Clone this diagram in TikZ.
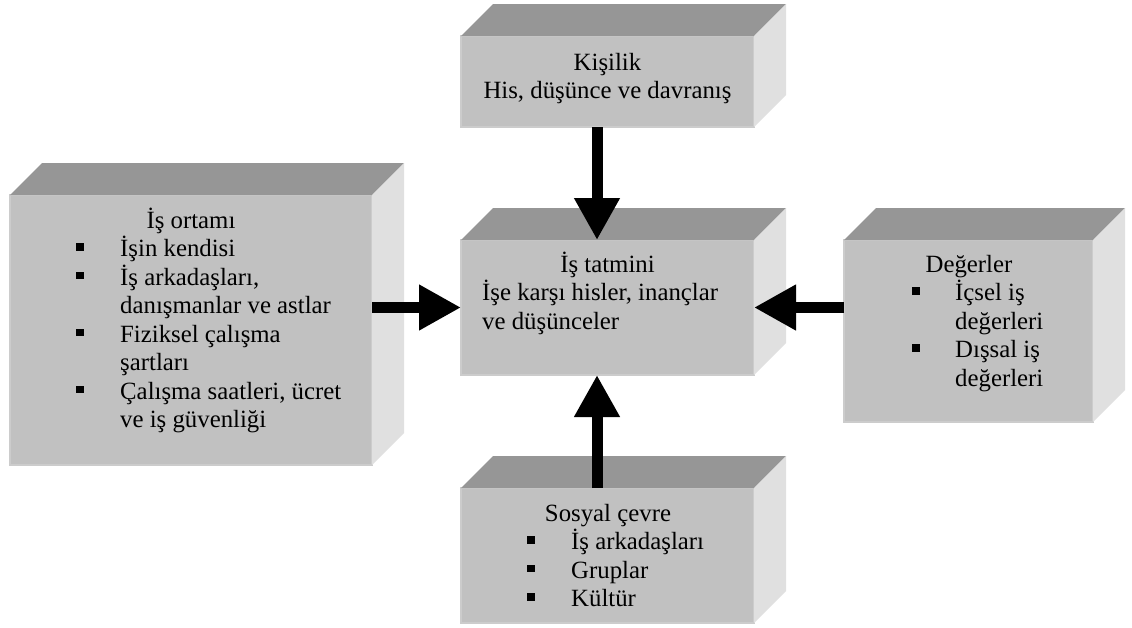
\documentclass[tikz,border=0pt]{standalone}
\usepackage{fontspec}
\setmainfont{Liberation Serif}
\usetikzlibrary{arrows.meta}

\definecolor{frontgray}{gray}{0.755}
\definecolor{topgray}{gray}{0.59}
\definecolor{sidegray}{gray}{0.88}
\definecolor{edgegray}{gray}{0.80}

% top and right faces of a block whose front face is node #1
\newcommand\boxfaces[1]{%
  \fill[topgray] (#1.north west) -- ++(32,-32) -- ([shift={(32,-32)}]#1.north east) -- (#1.north east) -- cycle;
  \fill[sidegray] (#1.north east) -- ++(32,-32) -- ([shift={(32,-32)}]#1.south east) -- (#1.south east) -- cycle;}

\begin{document}
\begin{tikzpicture}[x=1pt,y=-1pt,
  front/.style={draw=edgegray, line width=1.2pt, fill=frontgray, inner sep=0pt, outer sep=0pt, anchor=north west},
  ttl/.style={anchor=base, inner sep=0pt},
  ln/.style={anchor=base west, inner sep=0pt},
  bul/.style={fill=black, inner sep=0pt, minimum size=7.5pt},
  flow/.style={line width=11pt, -{Triangle[length=42pt,width=43pt]}},
  font=\fontsize{24.8pt}{28.5pt}\selectfont]

\useasboundingbox[fill=white] (0,0) rectangle (1132,627);

% front faces
\node[front, minimum width=362pt, minimum height=270pt] (env) at (10,195) {};
\node[front, minimum width=293pt, minimum height=91pt]  (kisilik) at (461,36) {};
\node[front, minimum width=293pt, minimum height=135pt] (tatmin) at (461,240) {};
\node[front, minimum width=249pt, minimum height=182pt] (deger) at (844,240) {};
\node[front, minimum width=293pt, minimum height=135pt] (sosyal) at (461,488) {};

\boxfaces{env}
\boxfaces{kisilik}
\boxfaces{tatmin}
\boxfaces{deger}
\boxfaces{sosyal}

% work environment
\node[ttl] (env0) at (191,228) {İş ortamı};
\node[bul] (envb1) at (80,247) {};
\node[ln] (env1) at (120,256.5) {İşin kendisi};
\node[bul] (envb2) at (80,275.5) {};
\node[ln] (env2) at (120,285) {İş arkadaşları,};
\node[ln] (env3) at (120,313.5) {danışmanlar ve astlar};
\node[bul] (envb3) at (80,332.5) {};
\node[ln] (env4) at (120,342) {Fiziksel çalışma};
\node[ln] (env5) at (120,370.5) {şartları};
\node[bul] (envb4) at (80,389.5) {};
\node[ln] (env6) at (120,399) {Çalışma saatleri, ücret};
\node[ln] (env7) at (120,427.5) {ve iş güvenliği};

% personality
\node[ttl] (kis0) at (607.5,70) {Kişilik};
\node[ttl] (kis1) at (607.5,98.5) {His, düşünce ve davranış};

% job satisfaction
\node[ttl] (tat0) at (607.5,272) {İş tatmini};
\node[ln] (tat1) at (482,300.5) {İşe karşı hisler, inançlar};
\node[ln] (tat2) at (482,329) {ve düşünceler};

% values
\node[ttl] (deg0) at (969,272) {Değerler};
\node[bul] (degb1) at (916,291) {};
\node[ln] (deg1) at (955,300.5) {İçsel iş};
\node[ln] (deg2) at (955,329) {değerleri};
\node[bul] (degb2) at (916,348) {};
\node[ln] (deg3) at (955,357.5) {Dışsal iş};
\node[ln] (deg4) at (955,386) {değerleri};

% social surroundings
\node[ttl] (sos0) at (608,521) {Sosyal çevre};
\node[bul] (sosb1) at (531,540) {};
\node[ln] (sos1) at (571,549.5) {İş arkadaşları};
\node[bul] (sosb2) at (531,568.5) {};
\node[ln] (sos2) at (571,578) {Gruplar};
\node[bul] (sosb3) at (531,597) {};
\node[ln] (sos3) at (571,606.5) {Kültür};

% influences on job satisfaction
\draw[flow] ([xshift=-10.5pt]kisilik.south) -- ([xshift=-10.5pt]tatmin.north);
\draw[flow] ([xshift=-10.5pt]sosyal.north) -- ([xshift=-10.5pt]tatmin.south);
\draw[flow] (env.east |- tatmin.west) -- (tatmin.west);
\draw[flow] (deger.west |- tatmin.east) -- (tatmin.east);
\end{tikzpicture}
\end{document}
